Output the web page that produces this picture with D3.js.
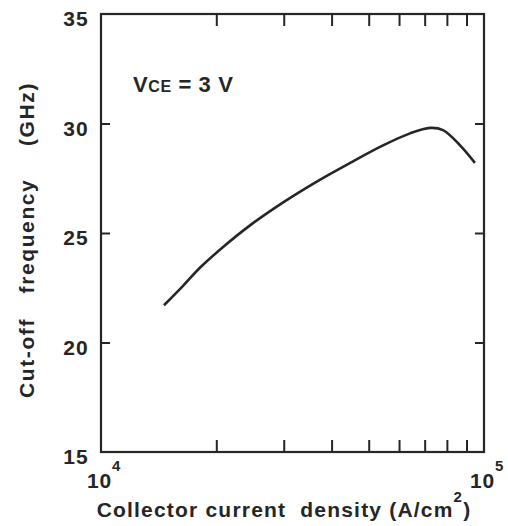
<!DOCTYPE html>
<html>
<head>
<meta charset="utf-8">
<script src="https://cdn.jsdelivr.net/npm/d3@7"></script>
<style>
  body { margin: 0; background: #fff; }
  text { font-family: "Liberation Sans", Arial, sans-serif; font-weight: bold; fill: #262626; }
</style>
</head>
<body>
<svg id="chart" width="508" height="526"></svg>
<script>
// current density (A/cm^2) vs cut-off frequency (GHz)
const density = [14600, 16400, 18100, 20800, 24500, 29900, 36600, 44700, 54500, 64100, 72300, 78200, 86600, 94700]
const fT = [21.7, 22.6, 23.4, 24.35, 25.35, 26.4, 27.35, 28.2, 29.0, 29.55, 29.8, 29.7, 29.0, 28.2]
const yTicks = [15, 20, 25, 30, 35]
const xMinor = [2e4, 3e4, 4e4, 5e4, 6e4, 7e4, 8e4, 9e4]
const xLabels = [{ v: 1e4, exp: '4' }, { v: 1e5, exp: '5' }]
const yTitleWords = ['Cut-off', 'frequency', '(GHz)']

const margin = { top: 14, right: 24, bottom: 74, left: 101 }
const width = 508 - margin.left - margin.right
const height = 526 - margin.top - margin.bottom
// page y of each word of the rotated y title (the original spaces them widely)
const yTitleAt = [358, 236, 114]

const svg = d3.select('#chart')
const g = svg.append('g')
  .attr('transform', `translate(${margin.left}, ${margin.top})`)

const x = d3.scaleLog().domain([1e4, 1e5]).range([0, width])
const y = d3.scaleLinear().domain([15, 35]).range([height, 0])

// inward ticks on all four sides
const tickStyle = sel => {
  sel.select('.domain').remove()
  sel.selectAll('line').attr('stroke', '#262626').attr('stroke-width', 2)
  sel.selectAll('text').remove()
}
g.append('g')
  .attr('transform', `translate(0, ${height})`)
  .call(d3.axisBottom(x).tickValues(xMinor).tickSize(-12))
  .call(tickStyle)
g.append('g')
  .call(d3.axisTop(x).tickValues(xMinor).tickSize(-12))
  .call(tickStyle)
g.append('g')
  .call(d3.axisLeft(y).tickValues([20, 25, 30]).tickSize(-9))
  .call(tickStyle)
g.append('g')
  .attr('transform', `translate(${width}, 0)`)
  .call(d3.axisRight(y).tickValues([20, 25, 30]).tickSize(-9))
  .call(tickStyle)

g.append('rect')
  .attr('width', width)
  .attr('height', height)
  .attr('fill', 'none')
  .attr('stroke', '#262626')
  .attr('stroke-width', 2.2)

// y tick labels
g.selectAll('.ylab')
  .data(yTicks)
  .join('text')
  .attr('class', 'ylab')
  .attr('x', -12)
  .attr('y', d => y(d) + 12)
  .attr('text-anchor', 'end')
  .attr('font-size', 21)
  .attr('letter-spacing', 1.2)
  .text(d => d)

// x labels 10^4, 10^5
const xl = g.selectAll('.xlab')
  .data(xLabels)
  .join('text')
  .attr('class', 'xlab')
  .attr('x', d => x(d.v) - 14)
  .attr('y', height + 36)
  .attr('font-size', 21)
  .attr('letter-spacing', 0.8)
xl.append('tspan').text('10')
xl.append('tspan').attr('dy', -17).attr('dx', 0).attr('font-size', 15).text(d => d.exp)

// curve
const line = d3.line()
  .x((d, i) => x(density[i]))
  .y((d, i) => y(fT[i]))
  .curve(d3.curveCatmullRom)
g.append('path')
  .datum(fT)
  .attr('fill', 'none')
  .attr('stroke', '#262626')
  .attr('stroke-width', 2.6)
  .attr('d', line)

// annotation
const ann = g.append('text')
  .attr('x', 32)
  .attr('y', 78)
  .attr('font-size', 22)
  .attr('letter-spacing', 0.6)
  .attr('xml:space', 'preserve')
ann.append('tspan').text('V')
ann.append('tspan').attr('font-size', 16).text('CE')
ann.append('tspan').text(' = 3 V')

// axis titles
svg.append('text')
  .attr('x', 284)
  .attr('y', 517)
  .attr('text-anchor', 'middle')
  .attr('font-size', 21)
  .attr('letter-spacing', 1.2)
  .attr('xml:space', 'preserve')
  .call(t => {
    t.append('tspan').text('Collector current  density (A/cm')
    t.append('tspan').attr('dy', -15).attr('font-size', 15).text('2')
    t.append('tspan').attr('dy', 15).text(')')
  })

svg.selectAll('.ytitle')
  .data(yTitleWords)
  .join('text')
  .attr('class', 'ytitle')
  .attr('transform', (d, i) => `translate(34, ${yTitleAt[i]}) rotate(-90)`)
  .attr('text-anchor', 'middle')
  .attr('font-size', 21)
  .attr('letter-spacing', 1.6)
  .text(d => d)
</script>
</body>
</html>
